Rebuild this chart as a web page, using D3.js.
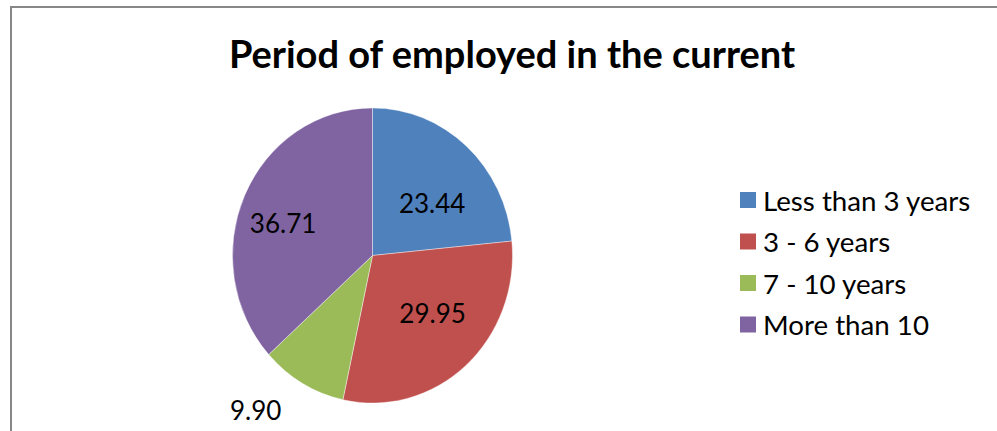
<!DOCTYPE html>
<html>
<head>
<meta charset="utf-8">
<script src="https://cdn.jsdelivr.net/npm/d3@7"></script>
<style>
  body { margin: 0; background: #fff; }
  text { font-family: Lato, "Open Sans", sans-serif; fill: #000; }
</style>
</head>
<body>
<div id="chart"></div>
<script>
// chart data
const categories = ["Less than 3 years", "3 - 6 years", "7 - 10 years", "More than 10"];
const values = [23.44, 29.95, 9.90, 36.71];
const colors = ["#4F81BD", "#C0504D", "#9BBB59", "#8064A2"];
const title = "Period of employed in the current";

const width = 997, height = 431;
const cx = 372.5, cy = 255.5, radius = 140;
const yStretch = 1.054; // picture is a little taller than wide
// label placement: distance as fraction of radius, and nudge of the angle (degrees)
const labelRadius = [0.555, 0.58, 1.34, 0.675];
const labelNudge = [8, -6, 8.5, -5];

const svg = d3.select("#chart").append("svg")
  .attr("width", width)
  .attr("height", height);

// chart area border (runs off right and bottom of the image)
svg.append("rect")
  .attr("x", 11).attr("y", 7)
  .attr("width", 1000).attr("height", 500)
  .attr("fill", "none")
  .attr("stroke", "#878787")
  .attr("stroke-width", 2);

svg.append("text")
  .attr("x", 512).attr("y", 68)
  .attr("text-anchor", "middle")
  .attr("font-weight", "bold")
  .attr("font-size", 38)
  .text(title);

const pie = d3.pie().sort(null).value(d => d);
const arcs = pie(values);
const arc = d3.arc().innerRadius(0).outerRadius(radius);

const g = svg.append("g")
  .attr("transform", `translate(${cx},${cy}) scale(1,${yStretch})`);

g.selectAll("path")
  .data(arcs)
  .join("path")
  .attr("d", arc)
  .attr("fill", (d, i) => colors[i])
  .attr("stroke", "#fff")
  .attr("stroke-width", 0.4);

// value labels
svg.selectAll("text.val")
  .data(arcs)
  .join("text")
  .attr("class", "val")
  .attr("text-anchor", "middle")
  .attr("dominant-baseline", "central")
  .attr("font-size", 26)
  .attr("transform", (d, i) => {
    const a = (d.startAngle + d.endAngle) / 2 + labelNudge[i] * Math.PI / 180;
    const r = radius * labelRadius[i];
    const x = Math.sin(a) * r, y = -Math.cos(a) * r;
    return `translate(${cx + x},${cy + y * yStretch})`;
  })
  .text(d => d.value.toFixed(2));

// legend
const legend = svg.append("g").attr("transform", "translate(740,200)");
const rows = legend.selectAll("g")
  .data(categories)
  .join("g")
  .attr("transform", (d, i) => `translate(0,${i * 41.5})`);
rows.append("rect")
  .attr("x", 0).attr("y", -8)
  .attr("width", 16).attr("height", 16)
  .attr("fill", (d, i) => colors[i]);
rows.append("text")
  .attr("x", 23).attr("y", 0)
  .attr("dominant-baseline", "central")
  .attr("font-size", 27.7)
  .text(d => d);
</script>
</body>
</html>
